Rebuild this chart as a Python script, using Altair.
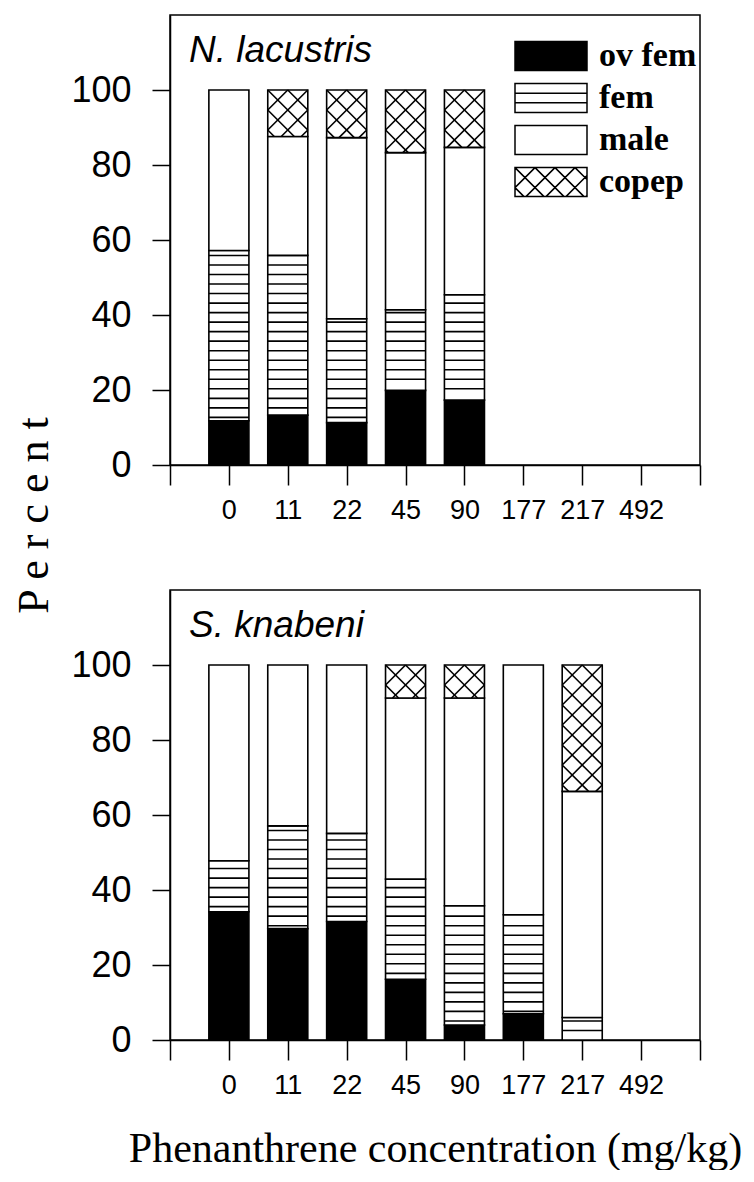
import altair as alt
import pandas as pd
import numpy as np

# ---------------- data ----------------
concentrations = ["0", "11", "22", "45", "90", "177", "217", "492"]
stages = ["ov fem", "fem", "male", "copep"]
panels = ["N. lacustris", "S. knabeni"]

# N. lacustris: percent composition (no animals at 177, 217, 492 mg/kg)
nl_ov_fem = [11.8, 13.3, 11.3, 19.9, 17.3, 0, 0, 0]
nl_fem = [45.4, 42.6, 27.7, 21.5, 28.1, 0, 0, 0]
nl_male = [42.8, 31.7, 48.3, 41.9, 39.3, 0, 0, 0]
nl_copep = [0.0, 12.4, 12.7, 16.7, 15.3, 0, 0, 0]

# S. knabeni: percent composition (no animals at 492 mg/kg)
sk_ov_fem = [34.2, 29.7, 31.6, 16.2, 4.0, 7.0, 0.0, 0]
sk_fem = [13.6, 27.4, 23.5, 26.7, 31.8, 26.4, 6.0, 0]
sk_male = [52.2, 42.9, 44.9, 48.3, 55.4, 66.6, 60.3, 0]
sk_copep = [0.0, 0.0, 0.0, 8.8, 8.8, 0.0, 33.7, 0]

# ---------------- style constants ----------------
W, H = 530, 450
XMAX, YMAX = 9, 120
PXX, PXY = W / XMAX, H / YMAX
HALF = 0.34          # half bar width in x units
LINE_STEP = 2.54     # spacing of the horizontal hatch (percent units)
CROSS_STEP = 20.0    # crosshatch period in pixels


def diag_segments(wr, hr, step, slope):
    """Clipped 45-degree lines in a wr x hr box (u right, v up), anchored at top-left corner."""
    out = []
    n = int(np.ceil((wr + hr) / step)) + 2
    for k in range(-n, n + 1):
        c = hr + k * step
        if slope > 0:
            u1, u2 = max(0.0, -c), min(wr, hr - c)
            if u2 - u1 > 1e-3 * max(wr, 1):
                out.append((u1, u1 + c, u2, u2 + c))
        else:
            u1, u2 = max(0.0, c - hr), min(wr, c)
            if u2 - u1 > 1e-3 * max(wr, 1):
                out.append((u1, c - u1, u2, c - u2))
    return out


def build(panel, series):
    segs, lines = [], []
    for i, conc in enumerate(concentrations):
        pos = i + 1
        lo = 0.0
        for st, vals in zip(stages, series):
            v = vals[i]
            if v <= 0:
                continue
            hi = lo + v
            xl, xr = pos - HALF, pos + HALF
            segs.append(dict(panel=panel, pos=pos, conc=conc, stage=st,
                             lo=lo, hi=hi, xl=xl, xr=xr))
            if st == "fem":
                k = int(np.ceil((lo + 0.5) / LINE_STEP))
                while k * LINE_STEP < hi - 0.5:
                    y = k * LINE_STEP
                    lines.append(dict(x=xl, x2=xr, y=y, y2=y))
                    k += 1
            elif st == "copep":
                wr = (xr - xl) * PXX
                hr = (hi - lo) * PXY
                for s in (1, -1):
                    for (u1, v1, u2, v2) in diag_segments(wr, hr, CROSS_STEP, s):
                        if abs(u2 - u1) < 1.0:
                            continue
                        lines.append(dict(x=xl + u1 / PXX, y=lo + v1 / PXY,
                                          x2=xl + u2 / PXX, y2=lo + v2 / PXY))
            lo = hi
    return pd.DataFrame(segs), pd.DataFrame(lines)


# legend swatch shapes (unit-square SVG paths)
def fmt(a):
    return f"{a:.3f}"


rect_path = "M-1,-0.4L1,-0.4L1,0.4L-1,0.4Z"
fem_path = rect_path + "M-1,-0.1333L1,-0.1333M-1,0.1333L1,0.1333"
copep_path = rect_path
for s in (1, -1):
    for (u1, v1, u2, v2) in diag_segments(2.0, 0.8, 20.0 / 36.0, s):
        copep_path += f"M{fmt(-1 + u1)},{fmt(0.4 - v1)}L{fmt(-1 + u2)},{fmt(0.4 - v2)}"
shape_paths = [rect_path, fem_path, rect_path, copep_path]

lab_arr = "[" + ",".join(f"'{c}'" for c in concentrations) + "]"
label_expr = (f"datum.value >= 1 && datum.value <= {len(concentrations)} ? "
              f"{lab_arr}[datum.value - 1] : ''")


def panel_chart(panel, series, top):
    segs, lines = build(panel, series)
    xargs = dict(values=list(range(XMAX + 1)), labelExpr=label_expr, tickSize=20,
                 labelFontSize=27, labelPadding=12, labelOverlap=False, labelFlush=False)
    if top:
        xaxis = alt.Axis(title=None, **xargs)
    else:
        xaxis = alt.Axis(title="Phenanthrene concentration (mg/kg)",
                         titleFont="Liberation Serif", titleFontSize=42,
                         titleFontWeight="normal", titleBaseline="alphabetic",
                         titleY=121, **xargs)
    yargs = dict(values=[0, 20, 40, 60, 80, 100], tickSize=18, labelFontSize=36,
                 labelPadding=21)
    if top:
        yaxis = alt.Axis(title="P e r c e n t",
                         titleFont="Liberation Serif", titleFontSize=44,
                         titleFontWeight="normal", titleAngle=270, titleAlign="center",
                         titleBaseline="alphabetic", titleX=-123, titleY=500, **yargs)
    else:
        yaxis = alt.Axis(title=None, **yargs)

    xs = alt.Scale(domain=[0, XMAX], nice=False, zero=False)
    ys = alt.Scale(domain=[0, YMAX], nice=False)

    bars = alt.Chart(segs).mark_rect(stroke="black", strokeWidth=1.6).encode(
        x=alt.X("xl:Q", scale=xs, axis=xaxis),
        x2="xr:Q",
        y=alt.Y("lo:Q", scale=ys, axis=yaxis),
        y2="hi:Q",
        fill=alt.condition("datum.stage == 'ov fem'", alt.value("black"), alt.value("white")),
    )
    hatch = alt.Chart(lines).mark_rule(color="black", strokeWidth=1.6).encode(
        x="x:Q", x2="x2:Q", y="y:Q", y2="y2:Q"
    )
    # species name written inside the panel, top-left corner
    name = alt.Chart(pd.DataFrame({"name": [panel]})).mark_text(
        align="left", baseline="alphabetic", font="Liberation Sans", fontStyle="italic",
        fontSize=37, color="black", dx=19, dy=47
    ).encode(x=alt.value(0), y=alt.value(0), text="name:N")
    layers = [bars, hatch, name]
    if top:
        leg = dict(orient="none", legendX=344, legendY=20, title=None, padding=0,
                   rowPadding=0, clipHeight=42, symbolSize=5184, symbolStrokeWidth=1.5,
                   symbolOpacity=1,
                   labelFont="Liberation Serif", labelFontSize=34, labelFontWeight="bold",
                   labelColor="black", labelOffset=11, labelLimit=0)
        legend_layer = alt.Chart(pd.DataFrame({"stage": stages})).mark_point(
            filled=False, size=5184, stroke="black", strokeWidth=1.5, opacity=1
        ).encode(
            fill=alt.Fill("stage:N", scale=alt.Scale(domain=stages,
                          range=["black", "white", "white", "white"]),
                          legend=alt.Legend(**leg)),
            shape=alt.Shape("stage:N", scale=alt.Scale(domain=stages, range=shape_paths),
                            legend=alt.Legend(**leg)),
        ).transform_filter("false")
        layers.append(legend_layer)

    return alt.layer(*layers).properties(width=W, height=H)


top_chart = panel_chart(panels[0], [nl_ov_fem, nl_fem, nl_male, nl_copep], True)
bottom_chart = panel_chart(panels[1], [sk_ov_fem, sk_fem, sk_male, sk_copep], False)

chart = alt.vconcat(top_chart, bottom_chart, spacing=125, bounds="flush").properties(
    padding={"left": 3, "top": 6, "right": 0, "bottom": 0}
).configure_view(
    stroke="black", strokeWidth=1.5
).configure_axis(
    domainColor="black", domainWidth=1.5, tickColor="black", tickWidth=1.5,
    labelColor="black", titleColor="black", grid=False, labelFont="Liberation Sans"
)

chart.save("out.html", embed_options={"renderer": "svg", "actions": False})
